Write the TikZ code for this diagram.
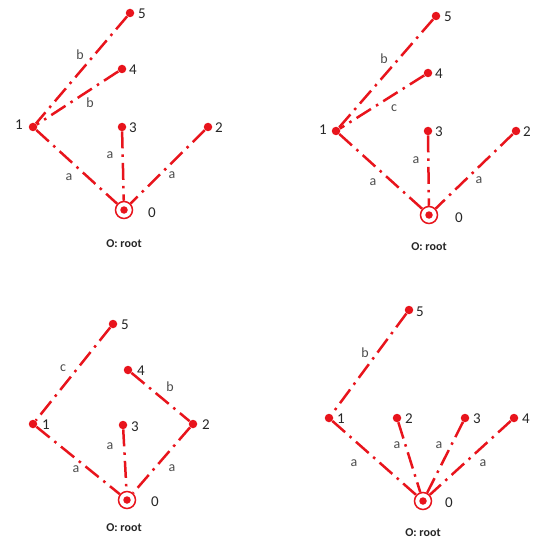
\documentclass[tikz,border=0pt]{standalone}
\usepackage{fontspec}
\setmainfont{Carlito}
\definecolor{ered}{HTML}{E8141C}
\begin{document}
\begin{tikzpicture}[x=1pt,y=-1pt,
 dot/.style={circle,fill=ered,inner sep=0pt,minimum size=8.5pt},
 rootdot/.style={circle,fill=ered,inner sep=0pt,minimum size=7.5pt},
 ring/.style={circle,draw=ered,line width=1.5pt,inner sep=0pt,minimum size=17pt},
 edge/.style={draw=ered,line width=2.5pt,dash pattern=on 17pt off 6pt on 2.5pt off 6pt},
 num/.style={font=\fontsize{15}{15}\selectfont,text=black!85,inner sep=0pt},
 elab/.style={font=\fontsize{14}{14}\selectfont,text=black!70,inner sep=0pt},
 captxt/.style={font=\bfseries\fontsize{12}{12}\selectfont,text=black!85,inner sep=0pt}]
\useasboundingbox (0,0) rectangle (532,540);
% ---------- panel 1 ----------
\node[dot] (a5) at (130,13) {};
\node[dot] (a4) at (122,69) {};
\node[dot] (a1) at (33,127) {};
\node[dot] (a3) at (122,127) {};
\node[dot] (a2) at (208,127) {};
\node[ring] (a0) at (124,210) {};
\node[rootdot] (a0c) at (124,210) {};
\node[num] (a5l) at (142,14) {5};
\node[num] (a4l) at (133,70) {4};
\node[num] (a1l) at (19,125) {1};
\node[num] (a3l) at (133,128) {3};
\node[num] (a2l) at (219,128) {2};
\node[num] (a0l) at (152,213) {0};
\node[captxt] (acap) at (124,244) {O: root};
\node[elab] (ae1) at (80,55) {b};
\node[elab] (ae2) at (90,103) {b};
\node[elab] (ae3) at (69,177) {a};
\node[elab] (ae4) at (110,155) {a};
\node[elab] (ae5) at (172,175) {a};
\draw[edge] (a5) -- (a1);
\draw[edge] (a4) -- (a1);
\draw[edge] (a1) -- (a0);
\draw[edge] (a3) -- (a0);
\draw[edge] (a2) -- (a0);
% ---------- panel 2 ----------
\node[dot] (b5) at (436,16) {};
\node[dot] (b4) at (428,73) {};
\node[dot] (b1) at (336,131) {};
\node[dot] (b3) at (428,131) {};
\node[dot] (b2) at (516,131) {};
\node[ring] (b0) at (429,215) {};
\node[rootdot] (b0c) at (429,215) {};
\node[num] (b5l) at (448,17) {5};
\node[num] (b4l) at (439,74) {4};
\node[num] (b1l) at (323,130) {1};
\node[num] (b3l) at (439,132) {3};
\node[num] (b2l) at (527,132) {2};
\node[num] (b0l) at (459,218) {0};
\node[captxt] (bcap) at (429,247) {O: root};
\node[elab] (be1) at (384,59) {b};
\node[elab] (be2) at (394,108) {c};
\node[elab] (be3) at (373,182) {a};
\node[elab] (be4) at (416,160) {a};
\node[elab] (be5) at (479,180) {a};
\draw[edge] (b5) -- (b1);
\draw[edge] (b4) -- (b1);
\draw[edge] (b1) -- (b0);
\draw[edge] (b3) -- (b0);
\draw[edge] (b2) -- (b0);
% ---------- panel 3 ----------
\node[dot] (c5) at (113,324) {};
\node[dot] (c4) at (128,370) {};
\node[dot] (c1) at (33,424) {};
\node[dot] (c3) at (123,425) {};
\node[dot] (c2) at (193,424) {};
\node[ring] (c0) at (127,500) {};
\node[rootdot] (c0c) at (127,500) {};
\node[num] (c5l) at (125,325) {5};
\node[num] (c4l) at (141,371) {4};
\node[num] (c1l) at (46,425) {1};
\node[num] (c3l) at (135,427) {3};
\node[num] (c2l) at (206,425) {2};
\node[num] (c0l) at (155,502) {0};
\node[captxt] (ccap) at (124,528) {O: root};
\node[elab] (ce1) at (63,368) {c};
\node[elab] (ce2) at (170,387) {b};
\node[elab] (ce3) at (76,469) {a};
\node[elab] (ce4) at (110,446) {a};
\node[elab] (ce5) at (172,468) {a};
\draw[edge] (c5) -- (c1);
\draw[edge] (c4) -- (c2);
\draw[edge] (c1) -- (c0);
\draw[edge] (c3) -- (c0);
\draw[edge] (c2) -- (c0);
% ---------- panel 4 ----------
\node[dot] (d5) at (409,310) {};
\node[dot] (d1) at (329,418) {};
\node[dot] (d2) at (397,418) {};
\node[dot] (d3) at (465,418) {};
\node[dot] (d4) at (514,418) {};
\node[ring] (d0) at (423,501) {};
\node[rootdot] (d0c) at (423,501) {};
\node[num] (d5l) at (420,312) {5};
\node[num] (d1l) at (341,419) {1};
\node[num] (d2l) at (409,419) {2};
\node[num] (d3l) at (477,419) {3};
\node[num] (d4l) at (526,419) {4};
\node[num] (d0l) at (449,503) {0};
\node[captxt] (dcap) at (423,533) {O: root};
\node[elab] (de1) at (365,353) {b};
\node[elab] (de2) at (354,463) {a};
\node[elab] (de3) at (397,445) {a};
\node[elab] (de4) at (439,445) {a};
\node[elab] (de5) at (483,463) {a};
\draw[edge] (d5) -- (d1);
\draw[edge] (d1) -- (d0);
\draw[edge] (d2) -- (d0);
\draw[edge] (d3) -- (d0);
\draw[edge] (d4) -- (d0);
\end{tikzpicture}
\end{document}
